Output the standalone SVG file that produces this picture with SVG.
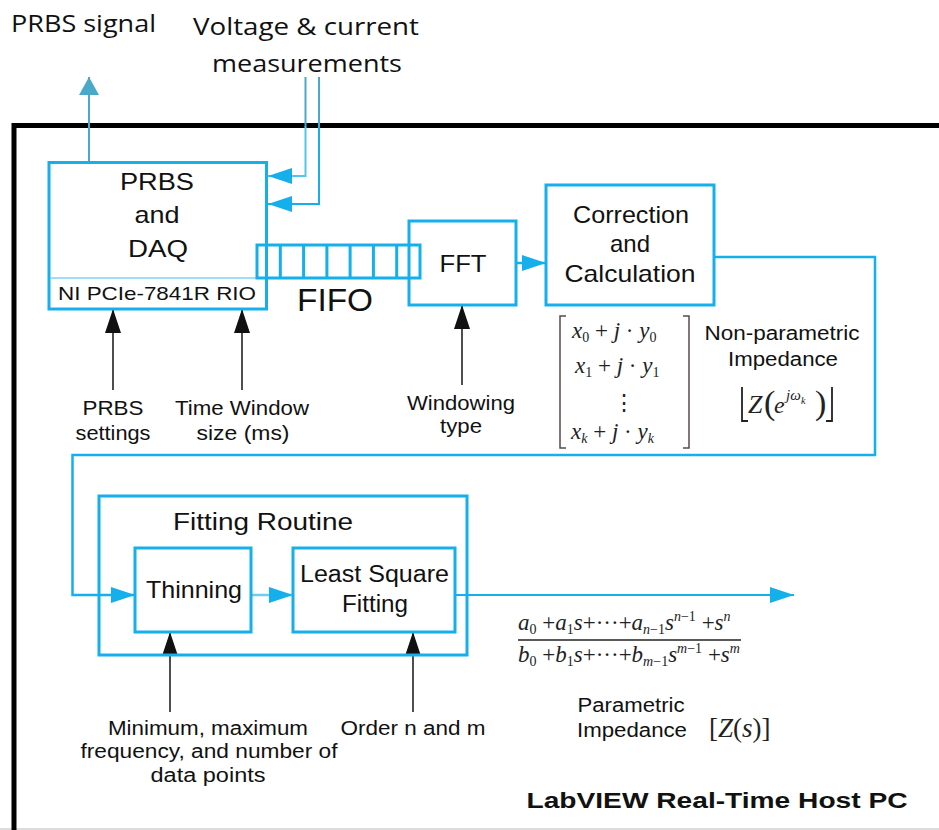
<svg xmlns="http://www.w3.org/2000/svg" width="939" height="830" viewBox="0 0 939 830">
<style>
.box{fill:#fff;stroke:#15b0ec;stroke-width:3}
.cy{fill:none;stroke:#15b0ec;stroke-width:2.5}
.bk{fill:none;stroke:#222;stroke-width:1.6}
.t{font-family:"Liberation Sans",Arial,sans-serif;fill:#111;text-anchor:middle}
.c{font-family:"Open Sans","Liberation Sans",sans-serif;fill:#111}
.m{font-family:"Liberation Serif","Times New Roman",serif;fill:#222}
.i{font-style:italic}
</style>
<defs>
<marker id="ac" viewBox="0 0 24 16" refX="24" refY="8" markerWidth="24" markerHeight="16" markerUnits="userSpaceOnUse" orient="auto"><path d="M0,0 L24,8 L0,16 z" fill="#15b0ec"/></marker>
<marker id="ab" viewBox="0 0 24 16" refX="24" refY="8" markerWidth="24" markerHeight="16" markerUnits="userSpaceOnUse" orient="auto"><path d="M0,0 L24,8 L0,16 z" fill="#111"/></marker>
<marker id="at" viewBox="0 0 18 20" refX="18" refY="10" markerWidth="18" markerHeight="20" markerUnits="userSpaceOnUse" orient="auto"><path d="M0,0 L18,10 L0,20 z" fill="#4aa8c8"/></marker>
</defs>
<rect width="939" height="830" fill="#fff"/>
<line x1="0" y1="829" x2="939" y2="829" stroke="#d0d0d0" stroke-width="1.5"/>
<!-- outer frame -->
<path d="M14 835 V125.5 H945" fill="none" stroke="#000" stroke-width="5"/>
<text class="t" x="717" y="808" font-size="22" font-weight="bold" textLength="381" lengthAdjust="spacingAndGlyphs">LabVIEW Real-Time Host PC</text>

<!-- top labels -->
<text class="c" x="11" y="32" font-size="24" textLength="145" lengthAdjust="spacingAndGlyphs">PRBS signal</text>
<text class="c" x="193" y="35" font-size="24" textLength="226" lengthAdjust="spacingAndGlyphs">Voltage &amp; current</text>
<text class="c" x="212" y="72" font-size="24" textLength="190" lengthAdjust="spacingAndGlyphs">measurements</text>

<g id="connectors">
<path d="M89 162 V77" fill="none" stroke="#4aa8c8" stroke-width="2" marker-end="url(#at)"/>
<path d="M305.5 77 V126" fill="none" stroke="#4aa8c8" stroke-width="2"/>
<path d="M319 77 V126" fill="none" stroke="#4aa8c8" stroke-width="2"/>
<path d="M305.5 126 V176 H268" fill="none" stroke="#55c4f0" stroke-width="2" marker-end="url(#ac)"/>
<path d="M319 126 V204 H268" fill="none" stroke="#15b0ec" stroke-width="2" marker-end="url(#ac)"/>
<path class="cy" d="M516 263 H546" marker-end="url(#ac)"/>
<path class="cy" d="M714 257 H875 V455 H72.5 V595 H135" marker-end="url(#ac)"/>
<path d="M251 595 H293" fill="none" stroke="#6ccdf2" stroke-width="2.5" marker-end="url(#ac)"/>
<path d="M455 595 H794" fill="none" stroke="#15b0ec" stroke-width="2" marker-end="url(#ac)"/>
<path class="bk" d="M113 390 V309" marker-end="url(#ab)"/>
<path class="bk" d="M242 390 V309" marker-end="url(#ab)"/>
<path class="bk" d="M462 385 V305" marker-end="url(#ab)"/>
<path class="bk" d="M170 712 V632" marker-end="url(#ab)"/>
<path class="bk" d="M413 712 V632" marker-end="url(#ab)"/>
</g>

<g id="prbs-daq">
<rect class="box" x="49" y="162.5" width="217.5" height="146.5"/>
<line x1="50" y1="278" x2="265" y2="278" stroke="#7fd3f3" stroke-width="1.5"/>
<text class="t" x="157" y="190" font-size="24" textLength="74" lengthAdjust="spacingAndGlyphs">PRBS</text>
<text class="t" x="157" y="223" font-size="24" textLength="45" lengthAdjust="spacingAndGlyphs">and</text>
<text class="t" x="158" y="257" font-size="24" textLength="60" lengthAdjust="spacingAndGlyphs">DAQ</text>
<text class="t" x="157" y="300" font-size="19" textLength="198" lengthAdjust="spacingAndGlyphs">NI PCIe-7841R RIO</text>
</g>

<g id="fifo">
<rect x="257" y="245" width="163" height="33" fill="none" stroke="#15b0ec" stroke-width="3"/>
<path d="M280.3 245 V278 M303.6 245 V278 M326.9 245 V278 M350.1 245 V278 M373.4 245 V278 M396.7 245 V278" stroke="#15b0ec" stroke-width="3"/>
<text class="t" x="335" y="311" font-size="31" textLength="76" lengthAdjust="spacingAndGlyphs">FIFO</text>
</g>

<g id="fft">
<rect x="409" y="221" width="107" height="84" fill="none" stroke="#15b0ec" stroke-width="3"/>
<text class="t" x="463" y="272" font-size="24" textLength="47" lengthAdjust="spacingAndGlyphs">FFT</text>
</g>

<g id="correction">
<rect class="box" x="546" y="185" width="168" height="120"/>
<text class="t" x="631" y="223" font-size="24" textLength="116" lengthAdjust="spacingAndGlyphs">Correction</text>
<text class="t" x="630" y="252" font-size="24" textLength="40" lengthAdjust="spacingAndGlyphs">and</text>
<text class="t" x="630" y="282" font-size="24" textLength="131" lengthAdjust="spacingAndGlyphs">Calculation</text>
</g>

<g id="matrix">
<path d="M566 316 H560 V448 H566 M683 316 H689 V448 H683" fill="none" stroke="#5a4a4a" stroke-width="1.5"/>
<text class="m" x="572" y="338" font-size="23"><tspan class="i">x</tspan><tspan font-size="14" dy="4">0</tspan><tspan dy="-4"> + </tspan><tspan class="i">j</tspan> · <tspan class="i">y</tspan><tspan font-size="14" dy="4">0</tspan></text>
<text class="m" x="575" y="373" font-size="23"><tspan class="i">x</tspan><tspan font-size="14" dy="4">1</tspan><tspan dy="-4"> + </tspan><tspan class="i">j</tspan> · <tspan class="i">y</tspan><tspan font-size="14" dy="4">1</tspan></text>
<text class="m" x="624" y="410" font-size="22" text-anchor="middle">⋮</text>
<text class="m" x="571" y="439" font-size="23"><tspan class="i">x</tspan><tspan class="i" font-size="14" dy="4">k</tspan><tspan dy="-4"> + </tspan><tspan class="i">j</tspan> · <tspan class="i">y</tspan><tspan class="i" font-size="14" dy="4">k</tspan></text>
</g>

<g id="nonparam">
<text class="t" x="782" y="340" font-size="20" textLength="155" lengthAdjust="spacingAndGlyphs">Non-parametric</text>
<text class="t" x="783" y="366" font-size="20" textLength="110" lengthAdjust="spacingAndGlyphs">Impedance</text>
<path d="M742 387 V421 H748 M832 387 V421 H826" fill="none" stroke="#222" stroke-width="1.8"/>
<text class="m i" x="748" y="413" font-size="26">Z</text>
<text class="m" x="764" y="414" font-size="34">(</text>
<text class="m i" x="774" y="413" font-size="24">e</text>
<text class="m i" x="786" y="400" font-size="15">jω</text>
<text class="m i" x="801" y="404" font-size="10">k</text>
<text class="m" x="815" y="414" font-size="34">)</text>
</g>

<g id="fitting-routine">
<rect x="99" y="496" width="368" height="159" fill="none" stroke="#15b0ec" stroke-width="3"/>
<text class="t" x="263" y="530" font-size="23" textLength="180" lengthAdjust="spacingAndGlyphs">Fitting Routine</text>
</g>
<g id="thinning">
<rect class="box" x="135" y="548" width="116" height="84"/>
<text class="t" x="194" y="598" font-size="24" textLength="96" lengthAdjust="spacingAndGlyphs">Thinning</text>
</g>
<g id="least-square">
<rect class="box" x="293" y="548" width="162" height="84"/>
<text class="t" x="374.5" y="582" font-size="23" textLength="149" lengthAdjust="spacingAndGlyphs">Least Square</text>
<text class="t" x="375" y="612" font-size="23" textLength="66" lengthAdjust="spacingAndGlyphs">Fitting</text>
</g>

<g id="fraction">
<text class="m" x="518" y="630" font-size="23"><tspan class="i">a</tspan><tspan font-size="14" dy="4">0</tspan><tspan dy="-4"> +</tspan><tspan class="i">a</tspan><tspan font-size="14" dy="4">1</tspan><tspan class="i" dy="-4">s</tspan>+···+<tspan class="i">a</tspan><tspan class="i" font-size="14" dy="4">n</tspan><tspan font-size="14">−1</tspan><tspan class="i" dy="-4">s</tspan><tspan class="i" font-size="14" dy="-9">n</tspan><tspan font-size="14">−1</tspan><tspan dy="9"> +</tspan><tspan class="i">s</tspan><tspan class="i" font-size="14" dy="-9">n</tspan></text>
<line x1="518" y1="640" x2="741" y2="640" stroke="#222" stroke-width="1.5"/>
<text class="m" x="518" y="662" font-size="23"><tspan class="i">b</tspan><tspan font-size="14" dy="4">0</tspan><tspan dy="-4"> +</tspan><tspan class="i">b</tspan><tspan font-size="14" dy="4">1</tspan><tspan class="i" dy="-4">s</tspan>+···+<tspan class="i">b</tspan><tspan class="i" font-size="14" dy="4">m</tspan><tspan font-size="14">−1</tspan><tspan class="i" dy="-4">s</tspan><tspan class="i" font-size="14" dy="-9">m</tspan><tspan font-size="14">−1</tspan><tspan dy="9"> +</tspan><tspan class="i">s</tspan><tspan class="i" font-size="14" dy="-9">m</tspan></text>
</g>

<g id="labels">
<text class="t" x="113" y="415" font-size="21" textLength="61" lengthAdjust="spacingAndGlyphs">PRBS</text>
<text class="t" x="113" y="440" font-size="21" textLength="75" lengthAdjust="spacingAndGlyphs">settings</text>
<text class="t" x="242" y="415" font-size="21" textLength="134" lengthAdjust="spacingAndGlyphs">Time Window</text>
<text class="t" x="243" y="440" font-size="21" textLength="93" lengthAdjust="spacingAndGlyphs">size (ms)</text>
<text class="t" x="461" y="410" font-size="21" textLength="108" lengthAdjust="spacingAndGlyphs">Windowing</text>
<text class="t" x="461" y="433" font-size="21" textLength="42" lengthAdjust="spacingAndGlyphs">type</text>
<text class="t" x="208" y="735" font-size="20" textLength="200" lengthAdjust="spacingAndGlyphs">Minimum, maximum</text>
<text class="t" x="209" y="758" font-size="20" textLength="257" lengthAdjust="spacingAndGlyphs">frequency, and number of</text>
<text class="t" x="208" y="782" font-size="20" textLength="115" lengthAdjust="spacingAndGlyphs">data points</text>
<text class="t" x="413" y="735" font-size="20" textLength="145" lengthAdjust="spacingAndGlyphs">Order n and m</text>
<text class="t" x="631" y="712" font-size="20" textLength="107" lengthAdjust="spacingAndGlyphs">Parametric</text>
<text class="t" x="632" y="737" font-size="20" textLength="110" lengthAdjust="spacingAndGlyphs">Impedance</text>
<text class="m" x="709" y="737" font-size="27">[<tspan class="i">Z</tspan>(<tspan class="i">s</tspan>)]</text>
</g>
</svg>
